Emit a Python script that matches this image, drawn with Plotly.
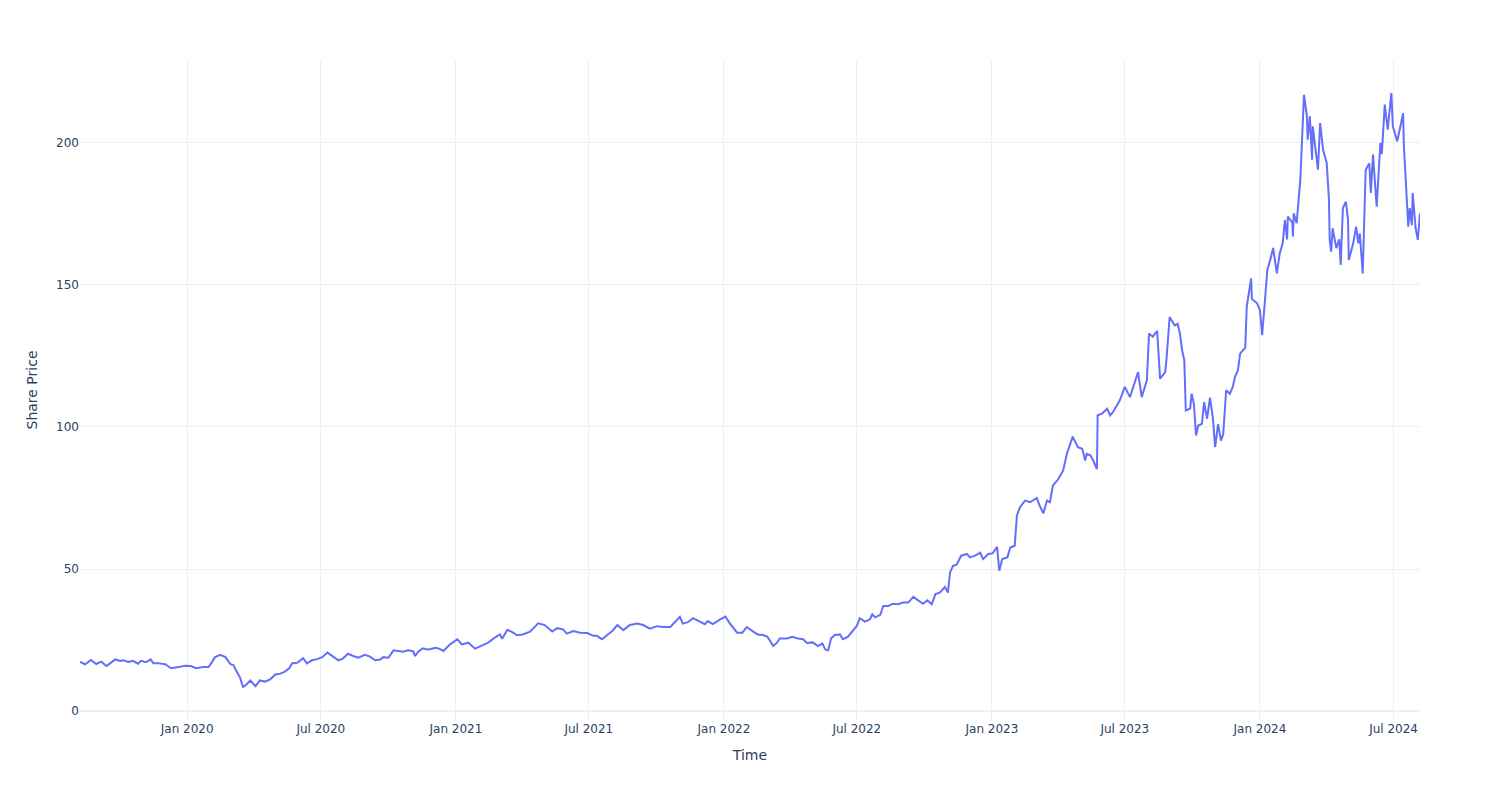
import plotly.graph_objects as go

dates = [
    "2019-08-08", "2019-08-15", "2019-08-23", "2019-08-30", "2019-09-06", "2019-09-13", "2019-09-18", "2019-09-25",
    "2019-10-02", "2019-10-06", "2019-10-13", "2019-10-19", "2019-10-26", "2019-10-30", "2019-11-06", "2019-11-12",
    "2019-11-16", "2019-11-22", "2019-12-02", "2019-12-10", "2019-12-20", "2019-12-29",
    "2020-01-06", "2020-01-13", "2020-01-23", "2020-01-30", "2020-02-03", "2020-02-08", "2020-02-15", "2020-02-22",
    "2020-02-29", "2020-03-04", "2020-03-08", "2020-03-13", "2020-03-17", "2020-03-21", "2020-03-27", "2020-03-31",
    "2020-04-03", "2020-04-09", "2020-04-16", "2020-04-23", "2020-04-30", "2020-05-07", "2020-05-13", "2020-05-19",
    "2020-05-23", "2020-05-30", "2020-06-07", "2020-06-12", "2020-06-19", "2020-06-26", "2020-07-03", "2020-07-10",
    "2020-07-16", "2020-07-25", "2020-07-31", "2020-08-07", "2020-08-14", "2020-08-21", "2020-08-30", "2020-09-06",
    "2020-09-13", "2020-09-20", "2020-09-24", "2020-10-01", "2020-10-08", "2020-10-14", "2020-10-21", "2020-10-28",
    "2020-11-04", "2020-11-06", "2020-11-11", "2020-11-17", "2020-11-23", "2020-11-28", "2020-12-04", "2020-12-09",
    "2020-12-15", "2020-12-24",
    "2021-01-03", "2021-01-09", "2021-01-18", "2021-01-27", "2021-02-06", "2021-02-14", "2021-02-23", "2021-03-02",
    "2021-03-05", "2021-03-12", "2021-03-20", "2021-03-25", "2021-04-02", "2021-04-12", "2021-04-23", "2021-05-02",
    "2021-05-12", "2021-05-19", "2021-05-27", "2021-06-01", "2021-06-10", "2021-06-19", "2021-06-29", "2021-07-07",
    "2021-07-12", "2021-07-19", "2021-07-26", "2021-08-02", "2021-08-09", "2021-08-17", "2021-08-26", "2021-09-05",
    "2021-09-13", "2021-09-22", "2021-10-02", "2021-10-10", "2021-10-20", "2021-10-27", "2021-11-02", "2021-11-06",
    "2021-11-13", "2021-11-20", "2021-11-30", "2021-12-06", "2021-12-10", "2021-12-17", "2021-12-27",
    "2022-01-03", "2022-01-09", "2022-01-19", "2022-01-26", "2022-02-01", "2022-02-10", "2022-02-16", "2022-02-23",
    "2022-03-01", "2022-03-05", "2022-03-09", "2022-03-14", "2022-03-18", "2022-03-28", "2022-04-04", "2022-04-12",
    "2022-04-19", "2022-04-24", "2022-05-02", "2022-05-09", "2022-05-15", "2022-05-19", "2022-05-23", "2022-05-27",
    "2022-06-01", "2022-06-08", "2022-06-12", "2022-06-19", "2022-06-26", "2022-07-01", "2022-07-05", "2022-07-12",
    "2022-07-19", "2022-07-22", "2022-07-26", "2022-08-02", "2022-08-06", "2022-08-13", "2022-08-19", "2022-08-26",
    "2022-09-02", "2022-09-09", "2022-09-16", "2022-09-22", "2022-09-29", "2022-10-05", "2022-10-11", "2022-10-16",
    "2022-10-22", "2022-10-29", "2022-11-02", "2022-11-05", "2022-11-09", "2022-11-14", "2022-11-20", "2022-11-28",
    "2022-12-02", "2022-12-09", "2022-12-16", "2022-12-20", "2022-12-27",
    "2023-01-02", "2023-01-08", "2023-01-11", "2023-01-15", "2023-01-22", "2023-01-26", "2023-02-01", "2023-02-04",
    "2023-02-08", "2023-02-15", "2023-02-22", "2023-03-03", "2023-03-07", "2023-03-12", "2023-03-17", "2023-03-21",
    "2023-03-25", "2023-04-01", "2023-04-08", "2023-04-13", "2023-04-21", "2023-04-28", "2023-05-04", "2023-05-08",
    "2023-05-10", "2023-05-15", "2023-05-19", "2023-05-24", "2023-05-25", "2023-05-31", "2023-06-07", "2023-06-11",
    "2023-06-15", "2023-06-20", "2023-06-24", "2023-06-28", "2023-07-01", "2023-07-08", "2023-07-15", "2023-07-19",
    "2023-07-24", "2023-07-31", "2023-08-03", "2023-08-08", "2023-08-14", "2023-08-18", "2023-08-25", "2023-08-27",
    "2023-08-31", "2023-09-07", "2023-09-11", "2023-09-14", "2023-09-17", "2023-09-20", "2023-09-22", "2023-09-28",
    "2023-09-30", "2023-10-03", "2023-10-06", "2023-10-09", "2023-10-14", "2023-10-17", "2023-10-21", "2023-10-25",
    "2023-10-29", "2023-11-01", "2023-11-05", "2023-11-09", "2023-11-12", "2023-11-16", "2023-11-21", "2023-11-25",
    "2023-11-28", "2023-12-02", "2023-12-05", "2023-12-12", "2023-12-14", "2023-12-20", "2023-12-21", "2023-12-28",
    "2024-01-01", "2024-01-04", "2024-01-08", "2024-01-11", "2024-01-15", "2024-01-19", "2024-01-24", "2024-01-28",
    "2024-02-01", "2024-02-04", "2024-02-07", "2024-02-08", "2024-02-14", "2024-02-15", "2024-02-16", "2024-02-20",
    "2024-02-25", "2024-02-27", "2024-03-01", "2024-03-05", "2024-03-06", "2024-03-09", "2024-03-12", "2024-03-13",
    "2024-03-17", "2024-03-20", "2024-03-23", "2024-03-27", "2024-04-01", "2024-04-04", "2024-04-05", "2024-04-07",
    "2024-04-09", "2024-04-14", "2024-04-18", "2024-04-20", "2024-04-23", "2024-04-27", "2024-04-30", "2024-05-01",
    "2024-05-07", "2024-05-11", "2024-05-14", "2024-05-16", "2024-05-20", "2024-05-24", "2024-05-29", "2024-05-31",
    "2024-06-03", "2024-06-08", "2024-06-13", "2024-06-15", "2024-06-19", "2024-06-23", "2024-06-28", "2024-06-30",
    "2024-07-06", "2024-07-10", "2024-07-14", "2024-07-15", "2024-07-19", "2024-07-21", "2024-07-23", "2024-07-26",
    "2024-07-27", "2024-07-31", "2024-08-03", "2024-08-06",
]

prices = [
    17.3, 16.5, 18.0, 16.6, 17.4, 15.9, 16.8, 18.2,
    17.7, 17.9, 17.3, 17.7, 16.7, 17.7, 17.2, 18.2,
    16.9, 16.9, 16.5, 15.1, 15.5, 16.0,
    15.9, 15.1, 15.5, 15.5, 17.0, 19.0, 19.8, 19.0,
    16.5, 16.2, 14.1, 11.8, 8.5, 9.2, 10.8, 9.6,
    8.8, 10.8, 10.4, 11.2, 12.9, 13.2, 13.9, 15.1,
    16.9, 17.0, 18.6, 16.8, 17.9, 18.3, 19.0, 20.6,
    19.4, 17.9, 18.5, 20.2, 19.4, 18.8, 19.8, 19.2,
    17.9, 18.2, 19.0, 18.8, 21.4, 21.2, 20.9, 21.4,
    21.0, 19.4, 21.0, 22.1, 21.7, 21.9, 22.3, 22.0,
    21.2, 23.5,
    25.3, 23.5, 24.1, 22.0, 23.2, 24.1, 25.9, 27.0,
    25.5, 28.6, 27.6, 26.7, 27.0, 28.0, 30.9, 30.3,
    28.0, 29.2, 28.8, 27.3, 28.2, 27.6, 27.5, 26.5,
    26.5, 25.3, 26.8, 28.2, 30.3, 28.5, 30.3, 30.8,
    30.3, 29.0, 29.9, 29.6, 29.6, 31.5, 33.2, 30.8,
    31.3, 32.7, 31.3, 30.6, 31.7, 30.6, 32.3,
    33.3, 30.9, 27.6, 27.6, 29.6, 28.0, 27.0, 26.8,
    26.2, 24.7, 22.9, 24.0, 25.6, 25.6, 26.2, 25.6,
    25.3, 24.0, 24.2, 22.9, 23.8, 21.7, 21.4, 25.6,
    26.8, 27.0, 25.3, 26.2, 28.2, 30.0, 32.7, 31.5,
    32.3, 34.1, 33.0, 33.9, 37.0, 37.0, 37.8, 37.6,
    38.2, 38.2, 40.2, 39.0, 37.8, 39.0, 37.6, 41.2,
    41.7, 43.7, 41.7, 48.8, 51.1, 51.5, 54.7, 55.3,
    54.1, 54.7, 55.8, 53.5, 55.3,
    55.5, 57.8, 49.4, 53.5, 54.1, 57.6, 58.2, 68.8,
    71.7, 74.1, 73.5, 75.0, 72.3, 69.6, 74.1, 73.5,
    79.4, 81.5, 84.7, 90.5, 96.6, 92.9, 92.3, 88.2,
    90.5, 90.0, 88.2, 85.2, 104.1, 104.7, 106.4, 104.1,
    105.3, 107.5, 109.3, 112.0, 114.1, 110.5, 116.4, 119.3,
    110.5, 116.4, 132.9, 131.7, 133.8, 117.0, 119.3, 124.6,
    138.7, 135.7, 136.3, 132.9, 127.0, 123.5, 105.8, 106.5,
    111.7, 108.2, 97.0, 100.5, 101.1, 108.7, 102.9, 110.3,
    102.9, 92.9, 101.0, 95.2, 97.5, 112.9, 111.7, 114.1,
    117.6, 119.9, 125.8, 127.9, 142.3, 152.3, 145.0, 143.6,
    141.1, 132.3, 145.0, 155.2, 158.7, 163.0, 154.0, 161.1,
    164.6, 172.8, 166.0, 174.0, 172.0, 167.0, 175.2, 171.7,
    187.0, 198.7, 216.9, 209.3, 201.1, 209.3, 194.0, 205.8,
    198.0, 190.5, 206.9, 197.5, 192.8, 179.9, 165.8, 161.7,
    169.9, 162.9, 166.0, 157.0, 177.0, 179.3, 172.8, 158.7,
    164.6, 170.5, 164.6, 168.1, 154.0, 190.5, 192.8, 182.3,
    195.8, 177.5, 199.9, 196.0, 213.4, 204.6, 217.5, 205.8,
    200.5, 205.0, 210.4, 199.3, 177.5, 170.5, 177.0, 171.0,
    182.3, 170.0, 165.8, 175.2,
]

fig = go.Figure(
    go.Scatter(
        x=dates,
        y=prices,
        mode="lines",
        line=dict(color="#636efa", width=2),
        name="Share Price",
    )
)

fig.update_layout(
    template="plotly_white",
    width=1500,
    height=800,
    margin=dict(l=80, r=80, t=60, b=80),
    font=dict(family="DejaVu Sans", size=12, color="#2a3f5f"),
    showlegend=False,
    xaxis=dict(title=dict(text="Time"), dtick="M6", tickformat="%b %Y"),
    yaxis=dict(title=dict(text="Share Price")),
)

fig.write_html("out.html")
